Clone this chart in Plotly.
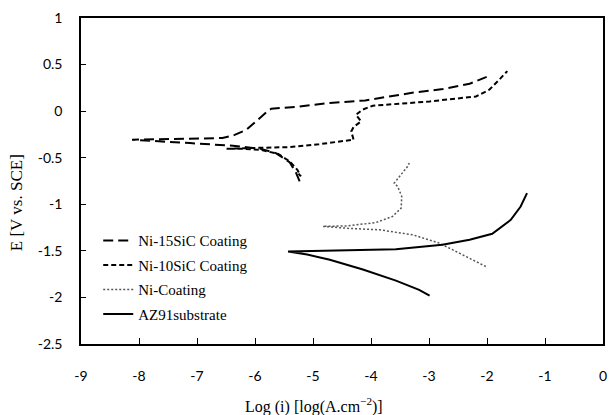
import plotly.graph_objects as go

# Ni-15SiC Coating (cathodic end -> Ecorr -> anodic end)
ni15_x = [-5.23, -5.29, -5.40, -5.64, -5.90, -6.10, -6.38, -7.12, -8.12,
          -7.40, -6.56, -6.35, -6.15, -6.02, -5.92, -5.80, -5.72, -5.30, -4.71, -4.10, -3.29, -2.76, -2.30, -2.00]
ni15_y = [-0.755, -0.665, -0.55, -0.45, -0.405, -0.39, -0.372, -0.343, -0.307,
          -0.298, -0.289, -0.255, -0.200, -0.130, -0.074, -0.010, 0.026, 0.045, 0.088, 0.115, 0.197, 0.237, 0.294, 0.370]

# Ni-10SiC Coating
ni10_x = [-5.25, -5.21, -5.27, -5.40, -5.60, -5.90, -6.20, -6.49,
          -6.00, -5.40, -4.90, -4.37, -4.30, -4.34, -4.30, -4.17, -4.22, -4.26, -4.15, -3.97,
          -3.50, -2.99, -2.19, -1.96, -1.79, -1.65]
ni10_y = [-0.67, -0.70, -0.63, -0.54, -0.46, -0.415, -0.405, -0.404,
          -0.395, -0.386, -0.355, -0.318, -0.307, -0.218, -0.17, -0.11, -0.07, -0.04, 0.015, 0.058,
          0.080, 0.104, 0.158, 0.23, 0.337, 0.43]

# Ni-Coating
ni_x = [-2.02, -2.42, -2.82, -3.28, -3.85, -4.40, -4.83,
        -4.40, -3.91, -3.63, -3.48, -3.47, -3.50, -3.54, -3.60, -3.48, -3.37, -3.34]
ni_y = [-1.668, -1.54, -1.417, -1.328, -1.274, -1.258, -1.237,
        -1.232, -1.195, -1.131, -1.041, -0.916, -0.86, -0.809, -0.773, -0.683, -0.594, -0.557]

# AZ91 substrate
az_x = [-2.99, -3.17, -3.57, -4.14, -4.71, -5.10, -5.43,
        -4.71, -3.57, -2.77, -2.30, -1.91, -1.59, -1.42, -1.31]
az_y = [-1.98, -1.918, -1.82, -1.70, -1.596, -1.54, -1.507,
        -1.496, -1.482, -1.435, -1.38, -1.317, -1.167, -1.024, -0.88]

x_ticks = [-9, -8, -7, -6, -5, -4, -3, -2, -1, 0]
x_ticktext = ["-9", "-8", "-7", "-6", "-5", "-4", "-3", "-2", "-1", "0"]
y_ticks = [-2.5, -2, -1.5, -1, -0.5, 0, 0.5, 1]
y_ticktext = ["-2.5", "-2", "-1.5", "-1", "-0.5", "0", "0.5", "1"]

SERIF = "Liberation Serif"

fig = go.Figure()
fig.add_trace(go.Scatter(x=ni15_x, y=ni15_y, mode="lines", name="Ni-15SiC Coating",
                         legendgroup="a",
                         line=dict(color="black", width=2, dash="10px,5px")))
fig.add_trace(go.Scatter(x=ni10_x, y=ni10_y, mode="lines", name="Ni-10SiC Coating",
                         legendgroup="b",
                         line=dict(color="black", width=2, dash="5px,3px")))
fig.add_trace(go.Scatter(x=ni_x, y=ni_y, mode="lines", name="Ni-Coating",
                         legendgroup="c",
                         line=dict(color="#555555", width=1.5, dash="2px,2px")))
fig.add_trace(go.Scatter(x=az_x, y=az_y, mode="lines", name="AZ91substrate",
                         legendgroup="d",
                         line=dict(color="black", width=2)))

tickfont = dict(family="Lato", size=14, color="black")

fig.update_layout(
    template="none",
    width=611, height=415,
    margin=dict(l=81, r=8, t=18, b=71, autoexpand=False),
    paper_bgcolor="white", plot_bgcolor="white",
    showlegend=True,
    legend=dict(x=0.033, y=0.367, xanchor="left", yanchor="top",
                bgcolor="rgba(0,0,0,0)", borderwidth=0,
                font=dict(family=SERIF, size=15, color="black"),
                tracegroupgap=2, itemwidth=30),
    xaxis=dict(range=[-9, 0], tickvals=x_ticks, ticktext=x_ticktext, automargin=False,
               showgrid=False, zeroline=False, showline=True, linecolor="black",
               linewidth=1.5, mirror=True, ticks="inside", ticklen=6, tickcolor="black",
               tickwidth=1, tickfont=tickfont, ticklabelstandoff=18),
    yaxis=dict(range=[-2.5, 1], tickvals=y_ticks, ticktext=y_ticktext, automargin=False,
               showgrid=False, zeroline=False, showline=True, linecolor="black",
               linewidth=1.5, mirror=True, ticks="inside", ticklen=5, tickcolor="black",
               tickwidth=1, tickfont=tickfont, ticklabelstandoff=14),
    annotations=[
        dict(text="Log (i) [log(A.cm<sup>−2</sup>)]", xref="paper", yref="paper",
             x=0.446, y=-0.188, xanchor="center", yanchor="middle", showarrow=False,
             font=dict(family=SERIF, size=16, color="black")),
        dict(text="E [V vs. SCE]", xref="paper", yref="paper",
             x=-0.1245, y=0.432, xanchor="center", yanchor="middle", showarrow=False,
             textangle=-90,
             font=dict(family=SERIF, size=17, color="black")),
    ],
)

fig.write_html("out.html",
               config={"displayModeBar": False},
               post_script="document.body.style.margin='0';document.body.style.overflow='hidden';")
